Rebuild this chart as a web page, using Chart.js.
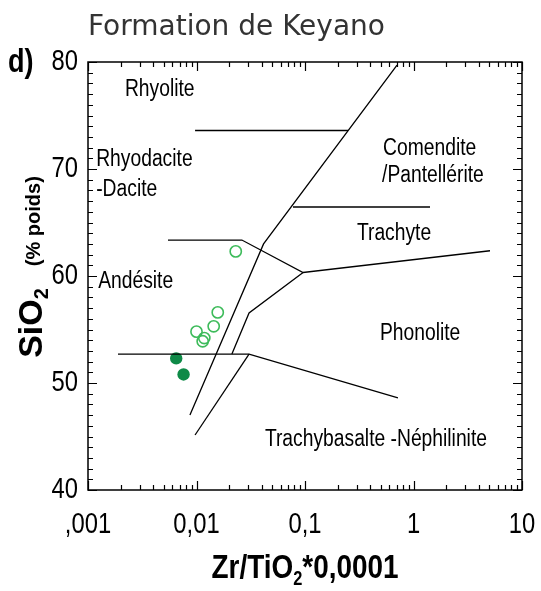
<!DOCTYPE html>
<html>
<head>
<meta charset="utf-8">
<script src="https://cdn.jsdelivr.net/npm/chart.js@4.4.1/dist/chart.umd.min.js"></script>
<style>
    html, body { margin: 0; padding: 0; background: #fff; }
    #wrap { width: 541px; height: 591px; }
</style>
</head>
<body>
<div id="wrap"><canvas id="chart" width="541" height="591"></canvas></div>
<script>
// axis ticks
const xTickValues = [0.001, 0.01, 0.1, 1, 10];
const xTickLabels = [',001', '0,01', '0,1', '1', '10'];
const yTickValues = [40, 50, 60, 70, 80];

// samples (Zr/TiO2*0.0001, SiO2)
const openX = [0.0230, 0.0157, 0.0144, 0.0100, 0.0118, 0.0114];
const openY = [62.3, 56.6, 55.3, 54.8, 54.2, 53.9];
const filledX = [0.0065, 0.0076];
const filledY = [52.3, 50.8];

// field boundaries, [x, y] pairs
const mainDiagonal = [[0.705, 79.7], [0.0415, 63.0], [0.0087, 47.0]];
const rhyoliteLine = [[0.0097, 73.6], [0.249, 73.6]];
const comenditeLine = [[0.0775, 66.45], [1.42, 66.45]];
const andesiteUpper = [[0.00546, 63.36], [0.0262, 63.36], [0.096, 60.33], [5.07, 62.36]];
const phonoliteInner = [[0.096, 60.33], [0.0305, 56.54], [0.0212, 52.7]];
const andesiteLower = [[0.00189, 52.7], [0.0305, 52.7], [0.719, 48.6]];
const basaltLine = [[0.0305, 52.7], [0.0097, 45.14]];

// field names and their anchor (left edge, middle) in data units
const fieldNames = ['Rhyolite', 'Rhyodacite', '-Dacite', 'Andésite', 'Comendite',
    '/Pantellérite', 'Trachyte', 'Phonolite', 'Trachybasalte -Néphilinite'];
const fieldX = [0.00219, 0.00119, 0.00119, 0.00124, 0.524, 0.513, 0.301, 0.491, 0.0427];
const fieldY = [77.4, 70.85, 68.05, 59.5, 71.95, 69.35, 64.0, 54.6, 44.7];

// no narrow face installed, so Liberation Sans is squeezed sideways
const SANS = "'Liberation Sans', Arial, sans-serif";
const SQUEEZE = 0.82;

function toPoints(pairs) {
    return pairs.map(p => ({ x: p[0], y: p[1] }));
}

function boundary(pairs) {
    return {
        data: toPoints(pairs),
        showLine: true,
        borderColor: '#000',
        borderWidth: 1.3,
        pointRadius: 0,
        fill: false,
        tension: 0
    };
}

function textWidth(ctx, text, font, sx) {
    ctx.font = font;
    return ctx.measureText(text).width * sx;
}

function narrowText(ctx, text, x, y, font, align, sx) {
    ctx.save();
    ctx.font = font;
    ctx.textAlign = align || 'left';
    ctx.translate(x, y);
    ctx.scale(sx || SQUEEZE, 1);
    ctx.fillText(text, 0, 0);
    ctx.restore();
}

const decorPlugin = {
    id: 'decor',
    afterDraw(chart) {
        const ctx = chart.ctx;
        const area = chart.chartArea;
        const xs = chart.scales.x;
        const ys = chart.scales.y;

        ctx.save();
        ctx.strokeStyle = '#000';
        ctx.lineWidth = 1.5;
        ctx.strokeRect(area.left, area.top, area.right - area.left, area.bottom - area.top);

        // inward ticks on all four sides
        ctx.lineWidth = 1.2;
        ctx.beginPath();
        for (let d = 0; d < xTickValues.length; d++) {
            const base = xTickValues[d];
            const steps = d === xTickValues.length - 1 ? 1 : 9;
            for (let k = 1; k <= steps; k++) {
                const px = Math.round(xs.getPixelForValue(base * k)) + 0.5;
                const len = k === 1 ? 9 : 5;
                ctx.moveTo(px, area.bottom);
                ctx.lineTo(px, area.bottom - len);
                ctx.moveTo(px, area.top);
                ctx.lineTo(px, area.top + len);
            }
        }
        for (let v = ys.min; v <= ys.max; v++) {
            const py = Math.round(ys.getPixelForValue(v)) + 0.5;
            const len = v % 10 === 0 ? 9 : 5;
            ctx.moveTo(area.left, py);
            ctx.lineTo(area.left + len, py);
            ctx.moveTo(area.right, py);
            ctx.lineTo(area.right - len, py);
        }
        ctx.stroke();

        ctx.fillStyle = '#000';
        ctx.textBaseline = 'middle';

        // tick labels
        const tickFont = '29px ' + SANS;
        xTickValues.forEach((v, i) => {
            narrowText(ctx, xTickLabels[i], xs.getPixelForValue(v), area.bottom + 35, tickFont, 'center');
        });
        yTickValues.forEach(v => {
            narrowText(ctx, String(v), area.left - 10, ys.getPixelForValue(v), tickFont, 'right');
        });

        // field names
        fieldNames.forEach((name, i) => {
            narrowText(ctx, name, xs.getPixelForValue(fieldX[i]), ys.getPixelForValue(fieldY[i]),
                '23.5px ' + SANS, 'left');
        });

        // title
        ctx.fillStyle = '#333';
        ctx.font = "28px 'DejaVu Sans', sans-serif";
        ctx.textAlign = 'left';
        ctx.textBaseline = 'alphabetic';
        ctx.fillText('Formation de Keyano', 88, 35);

        // panel letter
        ctx.fillStyle = '#000';
        narrowText(ctx, 'd)', 8, 72, 'bold 33px ' + SANS, 'left');

        // x axis title with subscript
        const xParts = [
            { t: 'Zr/TiO', f: 'bold 34px ' + SANS, dy: 0 },
            { t: '2', f: 'bold 20px ' + SANS, dy: 7 },
            { t: '*0,0001', f: 'bold 34px ' + SANS, dy: 0 }
        ];
        let total = 0;
        xParts.forEach(p => { total += textWidth(ctx, p.t, p.f, SQUEEZE); });
        let cx = (area.left + area.right) / 2 - total / 2;
        xParts.forEach(p => {
            narrowText(ctx, p.t, cx, 578 + p.dy, p.f, 'left');
            cx += textWidth(ctx, p.t, p.f, SQUEEZE);
        });

        // y axis title, rotated, drawn at full width
        ctx.translate(42, 0);
        ctx.rotate(-Math.PI / 2);
        const yParts = [
            { t: 'SiO', f: 'bold 34px ' + SANS, dy: 0, gap: 0 },
            { t: '2', f: 'bold 20px ' + SANS, dy: 6, gap: 22 },
            { t: '(% poids)', f: 'bold 20px ' + SANS, dy: -2, gap: 0 }
        ];
        total = 0;
        yParts.forEach(p => { total += textWidth(ctx, p.t, p.f, 1) + p.gap; });
        let cy = -267 - total / 2;
        yParts.forEach(p => {
            narrowText(ctx, p.t, cy, p.dy, p.f, 'left', 1);
            cy += textWidth(ctx, p.t, p.f, 1) + p.gap;
        });
        ctx.restore();
    }
};

const ctx = document.getElementById('chart').getContext('2d');
new Chart(ctx, {
    type: 'scatter',
    data: {
        datasets: [
            boundary(mainDiagonal),
            boundary(rhyoliteLine),
            boundary(comenditeLine),
            boundary(andesiteUpper),
            boundary(phonoliteInner),
            boundary(andesiteLower),
            boundary(basaltLine),
            {
                data: openX.map((x, i) => ({ x: x, y: openY[i] })),
                pointRadius: 5.6,
                pointBorderWidth: 1.6,
                pointBorderColor: '#3dbb5a',
                pointBackgroundColor: 'rgba(255,255,255,0)'
            },
            {
                data: filledX.map((x, i) => ({ x: x, y: filledY[i] })),
                pointRadius: 6.2,
                pointBorderWidth: 0,
                pointBorderColor: '#0e8a47',
                pointBackgroundColor: '#0e8a47'
            }
        ]
    },
    options: {
        responsive: false,
        animation: false,
        layout: { padding: { top: 62, left: 0, right: 19, bottom: 0 } },
        plugins: {
            legend: { display: false },
            tooltip: { enabled: false }
        },
        scales: {
            x: {
                type: 'logarithmic',
                min: 0.001,
                max: 10,
                afterFit: scale => { scale.height = 101; },
                grid: { display: false, drawTicks: false },
                border: { display: false },
                ticks: { display: false }
            },
            y: {
                type: 'linear',
                min: 40,
                max: 80,
                afterFit: scale => { scale.width = 88; },
                grid: { display: false, drawTicks: false },
                border: { display: false },
                ticks: { display: false }
            }
        }
    },
    plugins: [decorPlugin]
});
</script>
</body>
</html>
